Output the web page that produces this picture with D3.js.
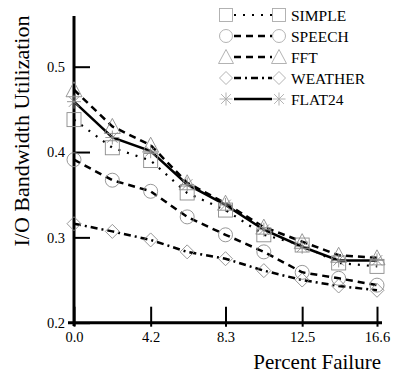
<!DOCTYPE html>
<html>
<head>
<meta charset="utf-8">
<script src="https://cdn.jsdelivr.net/npm/d3@7"></script>
<style>
  html, body { margin: 0; padding: 0; background: #fff; }
  svg text { font-family: 'Liberation Serif', 'Times New Roman', Times, 'DejaVu Serif', serif; }
</style>
</head>
<body>
<div id="chart"></div>
<script>
const failure = [0, 2.1, 4.2, 6.2, 8.3, 10.4, 12.5, 14.5, 16.6];
const simple  = [0.438, 0.405, 0.390, 0.352, 0.332, 0.303, 0.291, 0.270, 0.266];
const speech  = [0.391, 0.367, 0.354, 0.324, 0.303, 0.283, 0.259, 0.252, 0.244];
const fft     = [0.473, 0.430, 0.408, 0.364, 0.340, 0.312, 0.295, 0.279, 0.276];
const weather = [0.316, 0.307, 0.297, 0.283, 0.275, 0.261, 0.250, 0.243, 0.238];
const flat24  = [0.459, 0.417, 0.401, 0.362, 0.338, 0.309, 0.289, 0.273, 0.273];
const xTicks = [0, 4.2, 8.3, 12.5, 16.6];
const yTicks = [0.2, 0.3, 0.4, 0.5];

const series = [
  { name: 'SIMPLE',  values: simple,  marker: 'square',   dash: '2,7',      width: 2.2 },
  { name: 'SPEECH',  values: speech,  marker: 'circle',   dash: '7,5',      width: 2.5 },
  { name: 'FFT',     values: fft,     marker: 'triangle', dash: '7,5',      width: 2.5 },
  { name: 'WEATHER', values: weather, marker: 'diamond',  dash: '7,4,2,4',  width: 2.5 },
  { name: 'FLAT24',  values: flat24,  marker: 'asterisk', dash: null,       width: 2.5 }
];

const serif = "'Liberation Serif', 'Times New Roman', Times, serif";
const width = 393, height = 375;
const svg = d3.select('#chart').append('svg')
  .attr('width', width).attr('height', height)
  .attr('font-family', serif);

const x = d3.scaleLinear().domain([0, 16.6]).range([74, 377]);
const y = d3.scaleLinear().domain([0.2, 0.5]).range([322.7, 66.7]);

// marker shapes, centred on 0,0
function drawMarker(g, type, s) {
  const h = s / 2;
  if (type === 'square') {
    g.append('rect').attr('x', -h).attr('y', -h).attr('width', s).attr('height', s);
  } else if (type === 'circle') {
    g.append('circle').attr('r', h);
  } else if (type === 'triangle') {
    g.append('path').attr('d', `M0,${-h - 1}L${h + 1},${h}L${-h - 1},${h}Z`);
  } else if (type === 'diamond') {
    g.append('path').attr('d', `M0,${-h}L${h},0L0,${h}L${-h},0Z`);
  } else {
    g.append('path').attr('d',
      `M${-h},0L${h},0M0,${-h}L0,${h}M${-h * 0.75},${-h * 0.75}L${h * 0.75},${h * 0.75}M${-h * 0.75},${h * 0.75}L${h * 0.75},${-h * 0.75}`);
  }
}

// axes
const yAxis = svg.append('g')
  .attr('transform', 'translate(74,0)')
  .call(d3.axisLeft(y).tickValues(yTicks).tickFormat(d3.format('.1f'))
    .tickSize(-16).tickPadding(9));
const xAxis = svg.append('g')
  .attr('transform', 'translate(0,322.7)')
  .call(d3.axisBottom(x).tickValues(xTicks).tickFormat(d3.format('.1f'))
    .tickSize(-16).tickPadding(9.5));

[yAxis, xAxis].forEach(a => {
  a.attr('font-family', serif).attr('font-size', 14.5);
  a.select('.domain').remove();
  a.selectAll('.tick line').attr('stroke', '#000').attr('stroke-width', 2);
  a.selectAll('.tick text').attr('fill', '#000');
});
xAxis.selectAll('.tick line').attr('y2', -16).attr('y1', 4);

svg.append('line')
  .attr('x1', 68).attr('x2', 382).attr('y1', y(0.2)).attr('y2', y(0.2))
  .attr('stroke', '#000').attr('stroke-width', 3);
svg.append('line')
  .attr('x1', x(0)).attr('x2', x(0)).attr('y1', 16).attr('y2', 326)
  .attr('stroke', '#000').attr('stroke-width', 3);

// lines
const line = d3.line().x((d, i) => x(failure[i])).y(d => y(d));
series.forEach(s => {
  svg.append('path')
    .datum(s.values)
    .attr('d', line)
    .attr('fill', 'none')
    .attr('stroke', '#000')
    .attr('stroke-width', s.width)
    .attr('stroke-dasharray', s.dash);
});

// markers
series.forEach(s => {
  s.values.forEach((v, i) => {
    const g = svg.append('g')
      .attr('transform', `translate(${x(failure[i])},${y(v)})`)
      .attr('fill', 'none').attr('stroke', '#8c8c8c').attr('stroke-width', 0.9);
    drawMarker(g, s.marker, 14);
  });
});

// legend
const legend = svg.append('g');
series.forEach((s, i) => {
  const ly = 15 + i * 21;
  legend.append('line')
    .attr('x1', 234).attr('x2', 272).attr('y1', ly).attr('y2', ly)
    .attr('stroke', '#000').attr('stroke-width', s.width)
    .attr('stroke-dasharray', s.dash);
  [226, 279].forEach(mx => {
    const g = legend.append('g')
      .attr('transform', `translate(${mx},${ly})`)
      .attr('fill', 'none').attr('stroke', '#aaa').attr('stroke-width', 0.9);
    drawMarker(g, s.marker, 13);
  });
  legend.append('text')
    .attr('x', 291).attr('y', ly + 5.5)
    .attr('font-size', 15.5)
    .text(s.name);
});

// axis titles
svg.append('text')
  .attr('transform', 'translate(29,131) rotate(-90)')
  .attr('text-anchor', 'middle')
  .attr('font-size', 22)
  .text('I/O Bandwidth Utilization');
svg.append('text')
  .attr('x', 381).attr('y', 369)
  .attr('text-anchor', 'end')
  .attr('font-size', 21)
  .text('Percent Failure');
</script>
</body>
</html>
